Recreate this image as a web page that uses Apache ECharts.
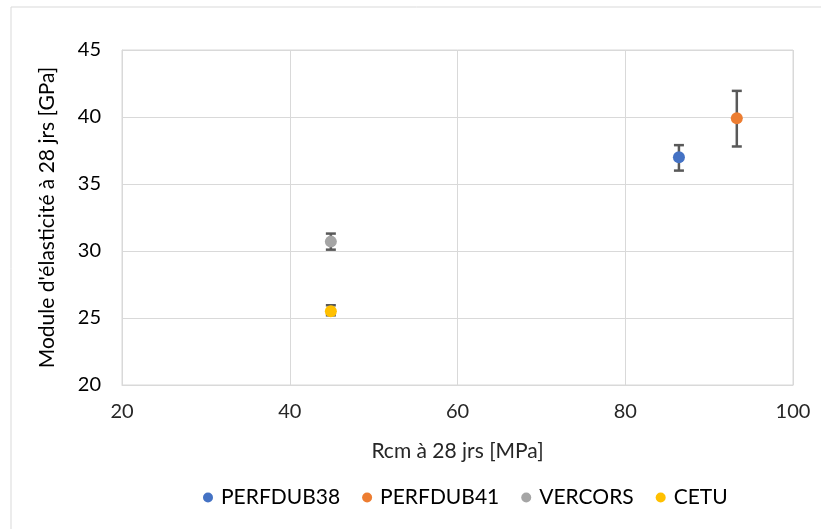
<!DOCTYPE html>
<html><head><meta charset="utf-8">
<script src="https://cdn.jsdelivr.net/npm/echarts@6/dist/echarts.min.js"></script>
<style>html,body{margin:0;padding:0;background:#fff}#c{width:821px;height:529px}</style>
</head><body><div id="c"></div>
<script>
const seriesNames = ['PERFDUB38', 'PERFDUB41', 'VERCORS', 'CETU'];
const colors = ['#4472C4', '#ED7D31', '#A5A5A5', '#FFC000'];
const xValues = [86.4, 93.3, 44.9, 44.9];
const yValues = [37.0, 39.9, 30.7, 25.5];
const errLow = [36.0, 37.8, 30.1, 25.2];
const errHigh = [37.9, 41.95, 31.3, 25.95];
const xTicks = [20, 40, 60, 80, 100];
const yTicks = [20, 25, 30, 35, 40, 45];

const font = 'Lato, "Open Sans", sans-serif';
const chart = echarts.init(document.getElementById('c'));
const series = [];
seriesNames.forEach((n, i) => {
  series.push({
    name: n + '_err', type: 'custom', silent: true,
    data: [[xValues[i], errLow[i], errHigh[i]]],
    renderItem: function (params, api) {
      const x = api.value(0);
      const lo = api.coord([x, api.value(1)]);
      const hi = api.coord([x, api.value(2)]);
      const hw = 5;
      const st = { stroke: '#595959', lineWidth: 2.5 };
      return { type: 'group', children: [
        { type: 'line', shape: { x1: lo[0], y1: lo[1], x2: hi[0], y2: hi[1] }, style: st },
        { type: 'line', shape: { x1: lo[0] - hw, y1: lo[1], x2: lo[0] + hw, y2: lo[1] }, style: st },
        { type: 'line', shape: { x1: hi[0] - hw, y1: hi[1], x2: hi[0] + hw, y2: hi[1] }, style: st }
      ]};
    },
    z: 2
  });
});
seriesNames.forEach((n, i) => {
  series.push({
    name: n, type: 'scatter', symbol: 'circle', symbolSize: 12,
    itemStyle: { color: colors[i], opacity: 1 },
    data: [[xValues[i], yValues[i]]], z: 3
  });
});

chart.setOption({
  animation: false,
  backgroundColor: '#fff',
  graphic: [{ type: 'rect', shape: { x: 11, y: 7, width: 900, height: 600 },
    style: { fill: 'none', stroke: '#d9d9d9', lineWidth: 1 }, silent: true, z: -1 }],
  grid: { left: 122, right: 28, top: 50, bottom: 144, show: true, borderColor: '#d9d9d9', borderWidth: 1 },
  legend: {
    data: seriesNames, bottom: 16, left: 198, itemGap: 22,
    icon: 'circle', itemWidth: 10, itemHeight: 10,
    textStyle: { fontFamily: font, fontSize: 21, color: '#000', padding: [0, 0, 0, 3] }
  },
  xAxis: {
    type: 'value', min: xTicks[0], max: xTicks[xTicks.length - 1], interval: 20,
    name: 'Rcm à 28 jrs [MPa]', nameLocation: 'middle', nameGap: 56,
    nameTextStyle: { fontFamily: font, fontSize: 21, color: '#262626' },
    axisLine: { show: true, lineStyle: { color: '#d9d9d9' } }, axisTick: { show: false },
    axisLabel: { fontFamily: font, fontSize: 20, color: '#262626', margin: 17 },
    splitLine: { lineStyle: { color: '#d9d9d9' } }
  },
  yAxis: {
    type: 'value', min: yTicks[0], max: yTicks[yTicks.length - 1], interval: 5,
    name: 'Module d\'élasticité à 28 jrs [GPa]', nameLocation: 'middle', nameGap: 64,
    nameTextStyle: { fontFamily: font, fontSize: 21, color: '#000' },
    axisLine: { show: true, lineStyle: { color: '#d9d9d9' } }, axisTick: { show: false },
    axisLabel: { fontFamily: font, fontSize: 20, color: '#000', margin: 21 },
    splitLine: { lineStyle: { color: '#d9d9d9' } }
  },
  series: series
});
</script></body></html>
